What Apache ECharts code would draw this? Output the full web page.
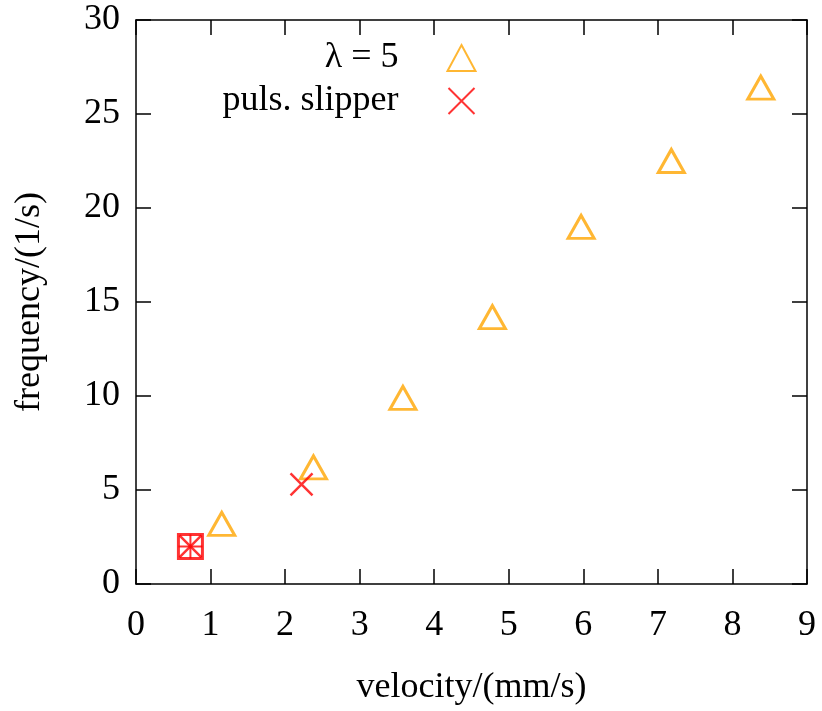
<!DOCTYPE html>
<html>
<head>
<meta charset="utf-8">
<script src="https://cdn.jsdelivr.net/npm/echarts@6/dist/echarts.min.js"></script>
<style>
  html, body { margin: 0; padding: 0; background: #fff; }
  #chart { width: 822px; height: 711px; }
</style>
</head>
<body>
<div id="chart"></div>
<script>
const lambdaData = [[1.15, 3.2], [2.38, 6.2], [3.58, 9.9], [4.78, 14.2], [5.97, 19.0], [7.18, 22.5], [8.38, 26.4]];
const slipperData = [[0.73, 2.0], [2.22, 5.3]];
const clusterData = [[0.73, 2.0]];
const xTicks = [0, 1, 2, 3, 4, 5, 6, 7, 8, 9];
const yTicks = [0, 5, 10, 15, 20, 25, 30];

const FONT = 'Liberation Serif';
const ORANGE = '#FFA500';
const RED = '#FF0000';
const CROSS = 'path://M0,0L10,10M10,0L0,10';
const PLUS = 'path://M5,0L5,10M0,5L10,5';

const axisBase = {
  axisLine: { show: true, onZero: false, lineStyle: { color: '#000', width: 1.5 } },
  axisTick: { show: true, inside: true, length: 15, lineStyle: { color: '#000', width: 1.5 } },
  splitLine: { show: false },
};

const chart = echarts.init(document.getElementById('chart'));
chart.setOption({
  animation: false,
  backgroundColor: '#fff',
  textStyle: { fontFamily: FONT },
  grid: { left: 136, right: 15, top: 20, bottom: 126 },
  legend: {
    data: ['λ = 5', 'puls. slipper'],
    orient: 'vertical',
    align: 'right',
    right: 340,
    top: 35,
    itemWidth: 28,
    itemHeight: 26,
    itemGap: 7,
    textStyle: { fontFamily: FONT, fontSize: 36, color: '#000', padding: [0, 44, 0, 0] },
  },
  xAxis: [
    {
      ...axisBase,
      type: 'value', min: 0, max: 9, interval: 1,
      name: 'velocity/(mm/s)', nameLocation: 'middle', nameGap: 86,
      nameTextStyle: { fontFamily: FONT, fontSize: 36, color: '#000' },
      axisLabel: { fontFamily: FONT, fontSize: 36, color: '#000', margin: 24,
        formatter: (v) => xTicks.includes(v) ? String(v) : '' },
    },
    {
      ...axisBase, position: 'top',
      type: 'value', min: 0, max: 9, interval: 1,
      axisLabel: { show: false },
    },
  ],
  yAxis: [
    {
      ...axisBase,
      type: 'value', min: 0, max: 30, interval: 5,
      name: 'frequency/(1/s)', nameLocation: 'middle', nameGap: 88,
      nameTextStyle: { fontFamily: FONT, fontSize: 36, color: '#000' },
      axisLabel: { fontFamily: FONT, fontSize: 36, color: '#000', margin: 16,
        formatter: (v) => yTicks.includes(v) ? String(v) : '' },
    },
    {
      ...axisBase, position: 'right',
      type: 'value', min: 0, max: 30, interval: 5,
      axisLabel: { show: false },
    },
  ],
  series: [
    {
      name: 'λ = 5', type: 'scatter', data: lambdaData,
      symbol: 'triangle', symbolSize: [26, 23],
      itemStyle: { color: 'transparent', borderColor: ORANGE, borderWidth: 3 },
    },
    {
      name: 'puls. slipper', type: 'scatter', data: slipperData,
      symbol: CROSS, symbolSize: 22,
      itemStyle: { color: 'none', borderColor: RED, borderWidth: 2.5 },
    },
    {
      name: 'cluster-square', type: 'scatter', data: clusterData,
      symbol: 'rect', symbolSize: 24,
      itemStyle: { color: 'transparent', borderColor: RED, borderWidth: 3 },
    },
    {
      name: 'cluster-plus', type: 'scatter', data: clusterData,
      symbol: PLUS, symbolSize: 24,
      itemStyle: { color: 'none', borderColor: RED, borderWidth: 2 },
    },
  ],
});
</script>
</body>
</html>
